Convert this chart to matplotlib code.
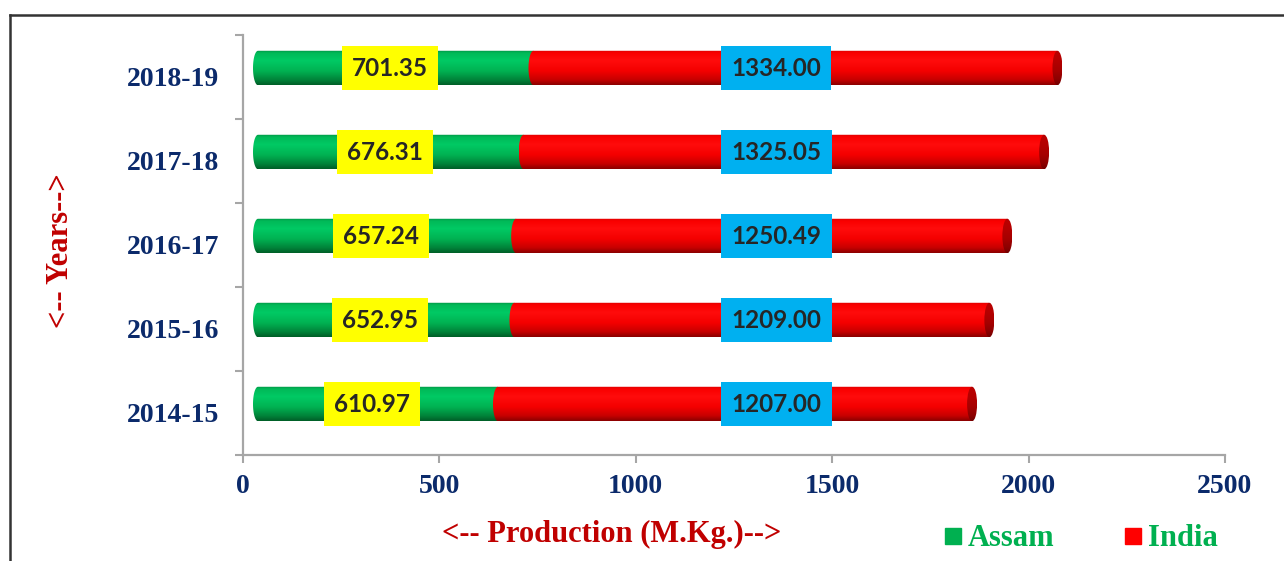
import numpy as np
import matplotlib
matplotlib.use("Agg")
import matplotlib.pyplot as plt
from matplotlib import transforms
from matplotlib.path import Path
from matplotlib.patches import PathPatch, Ellipse
from matplotlib.lines import Line2D

# ---- data -------------------------------------------------------------
years = ["2014-15", "2015-16", "2016-17", "2017-18", "2018-19"]
assam = [610.97, 652.95, 657.24, 676.31, 701.35]
india = [1207.00, 1209.00, 1250.49, 1325.05, 1334.00]
x_ticks = [0, 500, 1000, 1500, 2000, 2500]

# ---- style ------------------------------------------------------------
W, H, DPI = 1284, 561, 100
NAVY = "#0B2A6B"
DARKRED = "#C00000"
LEGEND_GREEN = "#00B050"
SPINE = "#A6A6A6"
SERIF = ["Liberation Serif", "DejaVu Serif"]
LABEL_FONT = ["Lato", "DejaVu Sans"]

BAR_H = 0.41            # bar thickness in category units
DEPTH_DX, DEPTH_DY = 15, 9    # pseudo-3D depth shift in pixels
LABEL_DX = 9            # horizontal shift of the value boxes in pixels
CAP_PX = 5              # half width of the elliptical end caps in pixels
india_label_x = 1335    # where the India value boxes sit along the axis

green_stops = [(0, 150, 70), (0, 185, 88), (0, 202, 100), (0, 178, 82), (0, 132, 58), (0, 95, 40)]
red_stops = [(222, 0, 0), (250, 0, 0), (255, 12, 12), (244, 0, 0), (200, 0, 0), (140, 0, 0)]
face_stops = [(175, 0, 0), (185, 0, 0), (180, 0, 0), (165, 0, 0), (140, 0, 0), (115, 0, 0)]
stop_pos = [0.0, 0.08, 0.3, 0.6, 0.85, 1.0]


def gradient(stops, n=64):
    t = np.linspace(0, 1, n)
    arr = np.array(stops, dtype=float) / 255.0
    cols = np.stack([np.interp(t, stop_pos, arr[:, c]) for c in range(3)], axis=-1)
    return cols[:, None, :]


fig = plt.figure(figsize=(W / DPI, H / DPI), dpi=DPI)
ax = fig.add_axes([243 / W, (H - 455) / H, (1225 - 243) / W, (455 - 35) / H])

ax.set_xlim(0, 2500)
ax.set_ylim(-0.5, len(years) - 0.5)

shift = transforms.ScaledTranslation(DEPTH_DX / DPI, DEPTH_DY / DPI, fig.dpi_scale_trans)
tr = ax.transData + shift
label_shift = transforms.ScaledTranslation(LABEL_DX / DPI, DEPTH_DY / DPI, fig.dpi_scale_trans)
tr_label = ax.transData + label_shift

# data units per pixel along x
x_per_px = 2500 / (1225 - 243)
rx = CAP_PX * x_per_px


def segment_path(x0, x1, yc, h):
    """Rectangle from x0 to x1 with a half-ellipse bulging left of x0."""
    yb, yt = yc - h / 2, yc + h / 2
    th = np.linspace(np.pi / 2, 3 * np.pi / 2, 40)
    arc = np.column_stack([x0 + rx * np.cos(th), yc + (h / 2) * np.sin(th)])
    verts = [(x1, yt), (x0, yt)] + [tuple(p) for p in arc] + [(x0, yb), (x1, yb), (x1, yt)]
    codes = [Path.MOVETO] + [Path.LINETO] * (len(verts) - 2) + [Path.CLOSEPOLY]
    return Path(verts, codes)


def draw_segment(x0, x1, yc, stops, zorder):
    patch = PathPatch(segment_path(x0, x1, yc, BAR_H), facecolor="none",
                      edgecolor="none", transform=tr)
    ax.add_patch(patch)
    im = ax.imshow(gradient(stops), extent=[x0 - rx, x1, yc - BAR_H / 2, yc + BAR_H / 2],
                   origin="upper", aspect="auto", transform=tr, zorder=zorder,
                   interpolation="bilinear")
    im.set_clip_path(patch)


for i, (a, ind) in enumerate(zip(assam, india)):
    total = a + ind
    draw_segment(0, a, i, green_stops, 2)
    draw_segment(a, total, i, red_stops, 3)
    face = Ellipse((total, i), 2 * rx, BAR_H, facecolor="none", edgecolor="none", transform=tr)
    ax.add_patch(face)
    fim = ax.imshow(gradient(face_stops), extent=[total - rx, total + rx, i - BAR_H / 2, i + BAR_H / 2],
                    origin="upper", aspect="auto", transform=tr, zorder=4,
                    interpolation="bilinear")
    fim.set_clip_path(face)

    ax.text(a / 2, i, f"{a:.2f}", transform=tr_label, ha="center", va="center",
            fontsize=17.5, fontweight="bold", family=LABEL_FONT, color="#262626", zorder=6,
            bbox=dict(boxstyle="square,pad=0.42", facecolor="#FFFF00", edgecolor="none"))
    ax.text(india_label_x, i, f"{ind:.2f}", transform=tr_label, ha="center", va="center",
            fontsize=17.5, fontweight="bold", family=LABEL_FONT, color="#262626", zorder=6,
            bbox=dict(boxstyle="square,pad=0.42", facecolor="#00B0F0", edgecolor="none"))

ax.set_xlim(0, 2500)
ax.set_ylim(-0.5, len(years) - 0.5)

# ---- axes styling ------------------------------------------------------
for s in ["top", "right"]:
    ax.spines[s].set_visible(False)
for s in ["left", "bottom"]:
    ax.spines[s].set_color(SPINE)
    ax.spines[s].set_linewidth(1.6)

ax.set_xticks(x_ticks)
ax.set_xticklabels([str(v) for v in x_ticks])
ax.tick_params(axis="x", length=6, width=1.5, color=SPINE, pad=8,
               labelsize=20, labelcolor=NAVY)

ax.set_yticks(range(len(years)))
ax.set_yticklabels(years)
ax.set_yticks(np.arange(-0.5, len(years), 1.0), minor=True)
ax.tick_params(axis="y", which="major", length=0, pad=17, labelsize=20, labelcolor=NAVY)
ax.tick_params(axis="y", which="minor", length=6, width=1.5, color=SPINE)

for lab in ax.get_xticklabels() + ax.get_yticklabels():
    lab.set_family(SERIF)
    lab.set_fontweight("bold")

# axis titles
fig.text(612 / W, (H - 534) / H, "<-- Production (M.Kg.)-->", ha="center", va="center",
         fontsize=22, fontweight="bold", family=SERIF, color=DARKRED)
fig.text(61 / W, (H - 251) / H, "<-- Years-->", ha="center", va="center", rotation=90,
         fontsize=22, fontweight="bold", family=SERIF, color=DARKRED)

# legend
handles = [Line2D([], [], marker="s", ls="", color="#00B050", markersize=11),
           Line2D([], [], marker="s", ls="", color="#FF0000", markersize=11)]
leg = fig.legend(handles, ["Assam", "India"], loc="center left", ncol=2,
                 bbox_to_anchor=(945 / W, (H - 539) / H), frameon=False,
                 handlelength=0.5, handletextpad=0.26, columnspacing=2.3,
                 borderpad=0, borderaxespad=0,
                 prop={"family": SERIF, "weight": "bold", "size": 22})
for t in leg.get_texts():
    t.set_color(LEGEND_GREEN)

# outer frame (top and left edges)
fig.add_artist(Line2D([10 / W, 10 / W], [0, (H - 15) / H], transform=fig.transFigure,
                      color="#333333", lw=1.8))
fig.add_artist(Line2D([10 / W, 1], [(H - 15) / H, (H - 15) / H], transform=fig.transFigure,
                      color="#333333", lw=1.8))

fig.savefig("out.png", dpi=DPI)
